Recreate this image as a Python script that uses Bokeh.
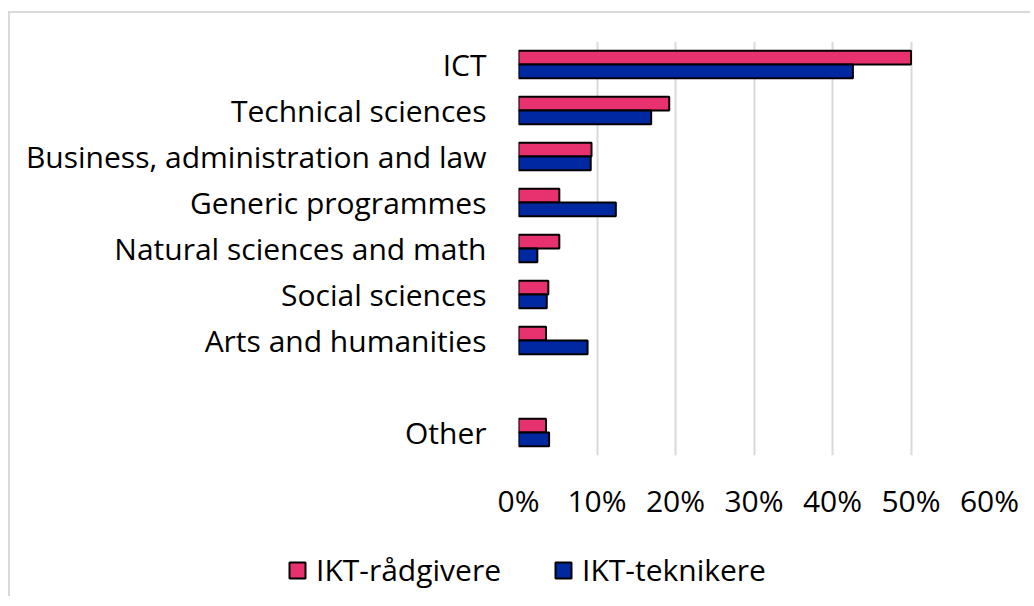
from bokeh.plotting import figure
from bokeh.layouts import column
from bokeh.models import (ColumnDataSource, FactorRange, Range1d, FixedTicker, PrintfTickFormatter,
                          Legend, LegendItem)
from bokeh.transform import dodge
from bokeh.embed import file_html
from bokeh.resources import INLINE

categories = ["ICT", "Technical sciences", "Business, administration and law",
              "Generic programmes", "Natural sciences and math", "Social sciences",
              "Arts and humanities", "Other"]
gap_before = "Other"   # an empty slot is left above this category
series_names = ["IKT-rådgivere", "IKT-teknikere"]
radgivere = [50.0, 19.2, 9.3, 5.2, 5.2, 3.8, 3.5, 3.5]
teknikere = [42.6, 16.9, 9.2, 12.4, 2.4, 3.6, 8.8, 3.9]
x_ticks = [0, 10, 20, 30, 40, 50, 60]

FONT = "Open Sans"
FS = "30px"
PINK = "#E8326F"
BLUE = "#0028A0"
GRID = "#d9d9d9"

factors = []
for c in categories:
    if c == gap_before:
        factors.append(" ")
    factors.append(c)

src = ColumnDataSource(dict(cat=categories, r=radgivere, t=teknikere))

p = figure(width=1020, height=517, output_backend="svg", toolbar_location=None,
           y_range=FactorRange(factors=list(reversed(factors)), range_padding=0),
           x_range=Range1d(0, 60),
           min_border_left=508, min_border_right=41, min_border_top=28, min_border_bottom=75)
p.frame_align = False
p.outline_line_color = None
p.background_fill_color = "white"

p.hbar(y=dodge("cat", 0.15, range=p.y_range), right="r", left=0, height=0.3, source=src,
       fill_color=PINK, line_color="black", line_width=2)
p.hbar(y=dodge("cat", -0.15, range=p.y_range), right="t", left=0, height=0.3, source=src,
       fill_color=BLUE, line_color="black", line_width=2)

p.xgrid.ticker = FixedTicker(ticks=x_ticks)
p.xgrid.grid_line_color = GRID
p.xgrid.grid_line_width = 2
p.ygrid.grid_line_color = None

p.xaxis.ticker = FixedTicker(ticks=x_ticks)
p.xaxis.formatter = PrintfTickFormatter(format="%d%%")
p.xaxis.axis_line_color = None
p.xaxis.major_tick_line_color = None
p.xaxis.minor_tick_line_color = None
p.xaxis.major_label_text_font = FONT
p.xaxis.major_label_text_font_size = FS
p.xaxis.major_label_text_color = "black"
p.xaxis.major_label_standoff = 18

p.yaxis.axis_line_color = None
p.yaxis.major_tick_line_color = None
p.yaxis.minor_tick_line_color = None
p.yaxis.major_label_text_font = FONT
p.yaxis.major_label_text_font_size = FS
p.yaxis.major_label_text_color = "black"
p.yaxis.major_label_standoff = 26

# legend strip below the chart: key renderers share the data, are muted (fully transparent)
# and lie outside this strip's view, so only their legend keys are drawn
lg = figure(width=1020, height=66, output_backend="svg", toolbar_location=None,
            x_axis_type=None, y_axis_type=None, min_border=0,
            x_range=Range1d(-1001, -1000), y_range=Range1d(-1001, -1000))
lg.frame_align = False
lg.outline_line_color = None
lg.xgrid.grid_line_color = None
lg.ygrid.grid_line_color = None
k1 = lg.hbar(y="r", left="r", right="r", height=0, source=src,
             fill_color=PINK, line_color="black", line_width=2, muted_alpha=0)
k2 = lg.hbar(y="t", left="t", right="t", height=0, source=src,
             fill_color=BLUE, line_color="black", line_width=2, muted_alpha=0)
k1.muted = True
k2.muted = True
legend = Legend(items=[LegendItem(label=series_names[0], renderers=[k1]),
                       LegendItem(label=series_names[1], renderers=[k2])],
                orientation="horizontal", location=(277, 6),
                glyph_width=20, glyph_height=20, label_text_font=FONT,
                label_text_font_size=FS, label_text_color="black",
                label_standoff=9, spacing=52, border_line_color=None,
                background_fill_alpha=0, padding=4, margin=0)
lg.add_layout(legend, "center")

layout = column(p, lg, spacing=0)
layout.styles = {"border-top": f"2px solid {GRID}", "border-left": f"2px solid {GRID}",
                 "margin-top": "11px", "margin-left": "8px"}

open("out.html", "w").write(file_html(layout, INLINE))
